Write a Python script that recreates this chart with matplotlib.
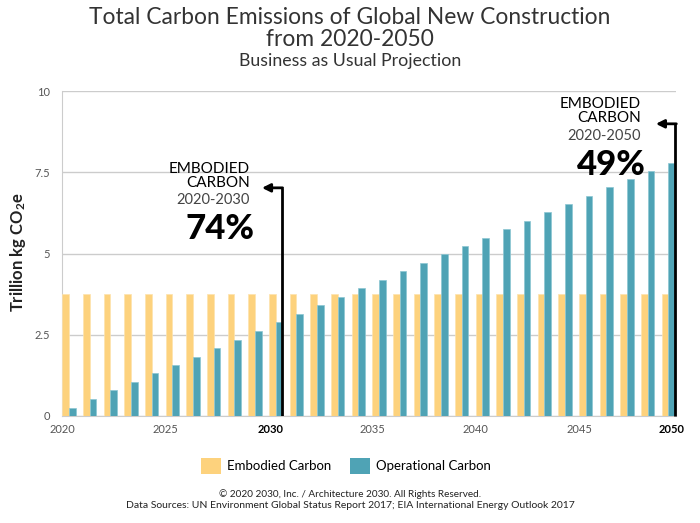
import matplotlib
matplotlib.use("Agg")
import matplotlib.pyplot as plt
from matplotlib.patches import Patch

# Data
years = list(range(2020, 2050))
embodied = [3.75] * 30
operational = [0.26, 0.53, 0.79, 1.04, 1.31, 1.56, 1.83, 2.09, 2.35, 2.62,
               2.89, 3.15, 3.41, 3.66, 3.93, 4.19, 4.45, 4.71, 4.98, 5.23,
               5.49, 5.75, 6.01, 6.27, 6.52, 6.78, 7.04, 7.29, 7.54, 7.79]
y_ticks = [0, 2.5, 5, 7.5, 10]
y_tick_labels = ["0", "2.5", "5", "7.5", "10"]
x_ticks = [2020, 2025, 2030.1, 2035, 2040, 2045, 2049.5]
x_tick_labels = ["2020", "2025", "2030", "2035", "2040", "2045", "2050"]

yellow = "#FDD27D"
teal = "#4FA3B5"
font = "Lato"

plt.rcParams["font.family"] = [font, "DejaVu Sans"]
plt.rcParams["mathtext.fontset"] = "custom"
plt.rcParams["mathtext.rm"] = font
plt.rcParams["mathtext.it"] = font
plt.rcParams["mathtext.bf"] = font + ":bold"

W, H = 700, 523
fig = plt.figure(figsize=(7, 5.23), dpi=100)
ax = fig.add_axes([62.3 / W, 1 - 416 / H, (675.7 - 62.3) / W, (416 - 91) / H])

bw = 0.32
ax.bar(years, embodied, width=bw, align="edge", color=yellow, zorder=3,
       edgecolor="#fde3ae", linewidth=0.5)
ax.bar([y + bw for y in years], operational, width=bw, align="edge", color=teal,
       zorder=3, edgecolor="#8cc6d3", linewidth=0.5)

ax.set_xlim(2020, 2049.68)
ax.set_ylim(0, 10)
ax.set_yticks(y_ticks)
ax.set_yticklabels(y_tick_labels)
ax.set_xticks(x_ticks)
ax.set_xticklabels(x_tick_labels)
ax.tick_params(axis="both", length=0, labelsize=8, labelcolor="#555555")
ax.tick_params(axis="y", pad=9)
ax.tick_params(axis="x", pad=6)
for lbl in ax.get_xticklabels():
    if lbl.get_text() in ("2030", "2050"):
        lbl.set_fontweight("bold")
        lbl.set_color("black")

ax.grid(axis="y", color="#cccccc", linewidth=1, zorder=0)
for s in ("top", "right"):
    ax.spines[s].set_visible(False)
ax.spines["left"].set_color("#cccccc")
ax.spines["bottom"].set_color("#cccccc")

# Marker lines with arrows
x30 = years[10] + 2 * bw - 0.03
ax.plot([x30, x30], [0, 7.02], color="black", lw=2, zorder=4, solid_capstyle="butt")
ax.annotate("", xy=(2029.66, 7.02), xytext=(x30 + 0.05, 7.02),
            arrowprops=dict(arrowstyle="-|>", color="black", lw=2,
                            mutation_scale=12, shrinkA=0, shrinkB=0), zorder=4)
x50 = 2049.66
ax.plot([x50, x50], [0, 8.99], color="black", lw=2, zorder=4, clip_on=False,
        solid_capstyle="butt")
ax.annotate("", xy=(2048.72, 8.99), xytext=(x50 + 0.05, 8.99),
            arrowprops=dict(arrowstyle="-|>", color="black", lw=2,
                            mutation_scale=12, shrinkA=0, shrinkB=0),
            zorder=4, annotation_clip=False)

def ftext(x, y, s, **kw):
    fig.text(x / W, 1 - y / H, s, **kw)

# Y axis label
ftext(18, 252, "Trillion kg CO$_\\mathbf{2}$e", rotation=90, ha="center", va="center",
      fontsize=12, fontweight="bold", color="#222222")

# Annotation texts
ftext(250, 176, "EMBODIED\nCARBON", ha="right", va="center", fontsize=11,
      linespacing=0.95)
ftext(250, 200, "2020-2030", ha="right", va="center", fontsize=10.5, color="#444444")
ftext(254, 229, "74%", ha="right", va="center", fontsize=25, fontweight="black")

ftext(641, 111, "EMBODIED\nCARBON", ha="right", va="center", fontsize=11,
      linespacing=0.95)
ftext(641, 136, "2020-2050", ha="right", va="center", fontsize=10.5, color="#444444")
ftext(646, 165, "49%", ha="right", va="center", fontsize=25, fontweight="black")

# Titles
ftext(350, 18, "Total Carbon Emissions of Global New Construction", ha="center",
      va="center", fontsize=16.4, color="#333333")
ftext(350, 39, "from 2020-2050", ha="center", va="center", fontsize=16.4, color="#333333")
ftext(350, 61, "Business as Usual Projection", ha="center", va="center",
      fontsize=12.8, color="#333333")

# Legend
handles = [Patch(facecolor=yellow, label="Embodied Carbon"),
           Patch(facecolor=teal, label="Operational Carbon")]
fig.legend(handles=handles, loc="center", bbox_to_anchor=(346 / W, 1 - 466 / H),
           ncol=2, frameon=False, fontsize=9.5, handlelength=1.5, handleheight=1.5,
           columnspacing=1.4, handletextpad=0.5)

# Footer
ftext(350, 494, "\u00a9 2020 2030, Inc. / Architecture 2030. All Rights Reserved.",
      ha="center", va="center", fontsize=7.2, color="#222222")
ftext(350, 506, "Data Sources: UN Environment Global Status Report 2017; "
      "EIA International Energy Outlook 2017", ha="center", va="center",
      fontsize=7.5, color="#222222")

fig.savefig("out.png", dpi=100)
